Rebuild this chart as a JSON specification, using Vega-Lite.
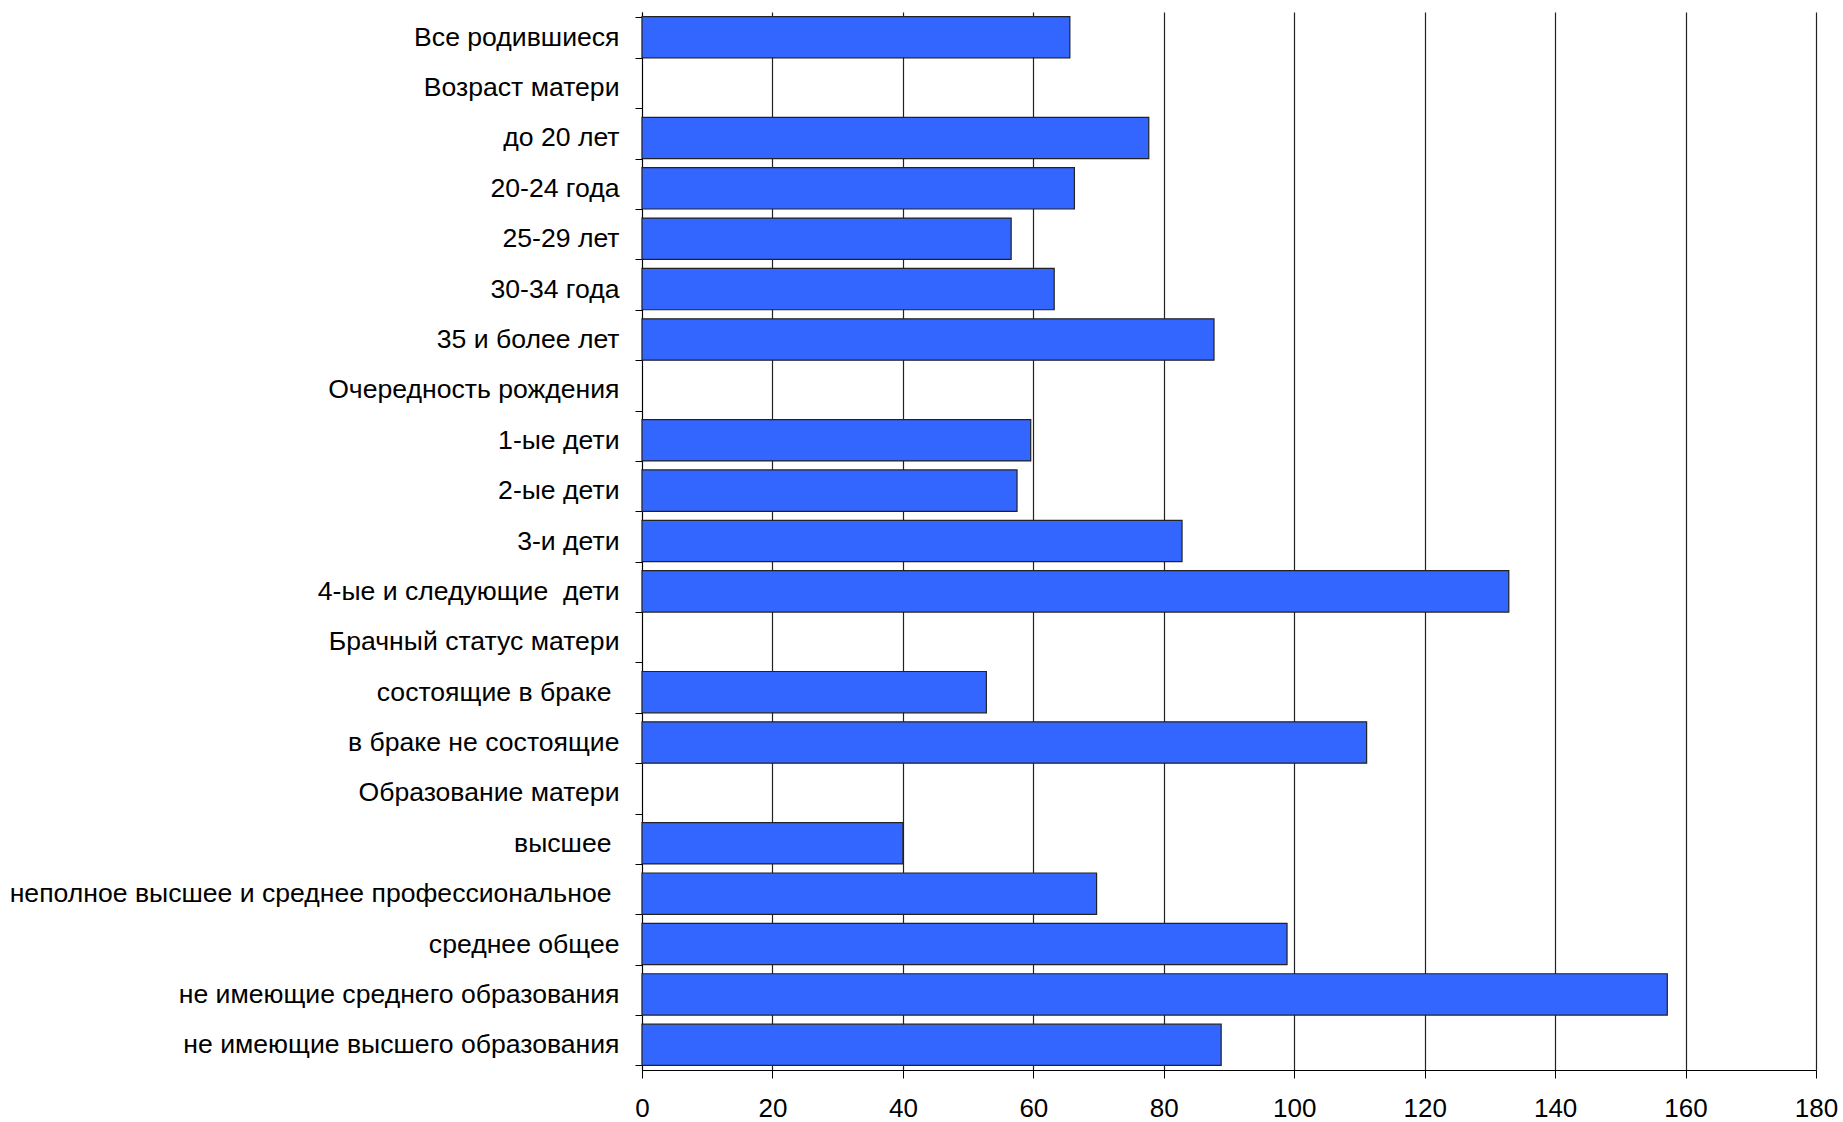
{
  "$schema": "https://vega.github.io/schema/vega-lite/v6.json",
  "width": 1174,
  "height": 1058,
  "autosize": {"type": "none"},
  "padding": {"left": 642, "top": 12, "right": 27, "bottom": 52},
  "background": "white",
  "config": {
    "view": {"stroke": null},
    "font": "Liberation Sans"
  },
  "data": {
    "values": [
      {"cat": "Все родившиеся", "v": 65.6},
      {"cat": "Возраст матери", "v": null},
      {"cat": "до 20 лет", "v": 77.7},
      {"cat": "20-24 года", "v": 66.3},
      {"cat": "25-29 лет", "v": 56.6},
      {"cat": "30-34 года", "v": 63.2},
      {"cat": "35 и более лет", "v": 87.7},
      {"cat": "Очередность рождения", "v": null},
      {"cat": "1-ые дети", "v": 59.6},
      {"cat": "2-ые дети", "v": 57.5},
      {"cat": "3-и дети", "v": 82.8},
      {"cat": "4-ые и следующие \u00a0дети", "v": 132.9},
      {"cat": "Брачный статус матери", "v": null},
      {"cat": "состоящие в браке", "v": 52.8},
      {"cat": "в браке не состоящие", "v": 111.1},
      {"cat": "Образование матери", "v": null},
      {"cat": "высшее", "v": 40.0},
      {"cat": "неполное высшее и среднее профессиональное", "v": 69.7},
      {"cat": "среднее общее", "v": 98.9},
      {"cat": "не имеющие среднего образования", "v": 157.2},
      {"cat": "не имеющие высшего образования", "v": 88.8}
    ]
  },
  "mark": {"type": "bar", "color": "#3366FF", "stroke": "#222222", "strokeWidth": 1.2},
  "encoding": {
    "y": {
      "field": "cat",
      "type": "nominal",
      "sort": null,
      "scale": {
        "domain": ["Все родившиеся", "Возраст матери", "до 20 лет", "20-24 года", "25-29 лет", "30-34 года", "35 и более лет", "Очередность рождения", "1-ые дети", "2-ые дети", "3-и дети", "4-ые и следующие \u00a0дети", "Брачный статус матери", "состоящие в браке", "в браке не состоящие", "Образование матери", "высшее", "неполное высшее и среднее профессиональное", "среднее общее", "не имеющие среднего образования", "не имеющие высшего образования"],
        "paddingInner": 0.18,
        "paddingOuter": 0.09
      },
      "axis": {
        "title": null,
        "tickBand": "extent",
        "tickSize": 7,
        "tickColor": "#000",
        "domainColor": "#000",
        "labelFontSize": 26.6,
        "labelColor": "#000",
        "labelPadding": {
          "condition": {"test": "indexof(['состоящие в браке', 'высшее', 'неполное высшее и среднее профессиональное'], datum.value) >= 0", "value": 24},
          "value": 16
        },
        "labelLimit": 800,
        "grid": false
      }
    },
    "x": {
      "field": "v",
      "type": "quantitative",
      "scale": {"domain": [0, 180], "nice": false},
      "axis": {
        "title": null,
        "values": [0, 20, 40, 60, 80, 100, 120, 140, 160, 180],
        "grid": true,
        "gridColor": "#222",
        "gridWidth": 1.2,
        "gridOpacity": 1,
        "tickSize": 8,
        "tickColor": "#000",
        "domainColor": "#000",
        "labelFontSize": 26,
        "labelColor": "#000",
        "labelPadding": 17,
        "labelFlush": false
      }
    }
  }
}
